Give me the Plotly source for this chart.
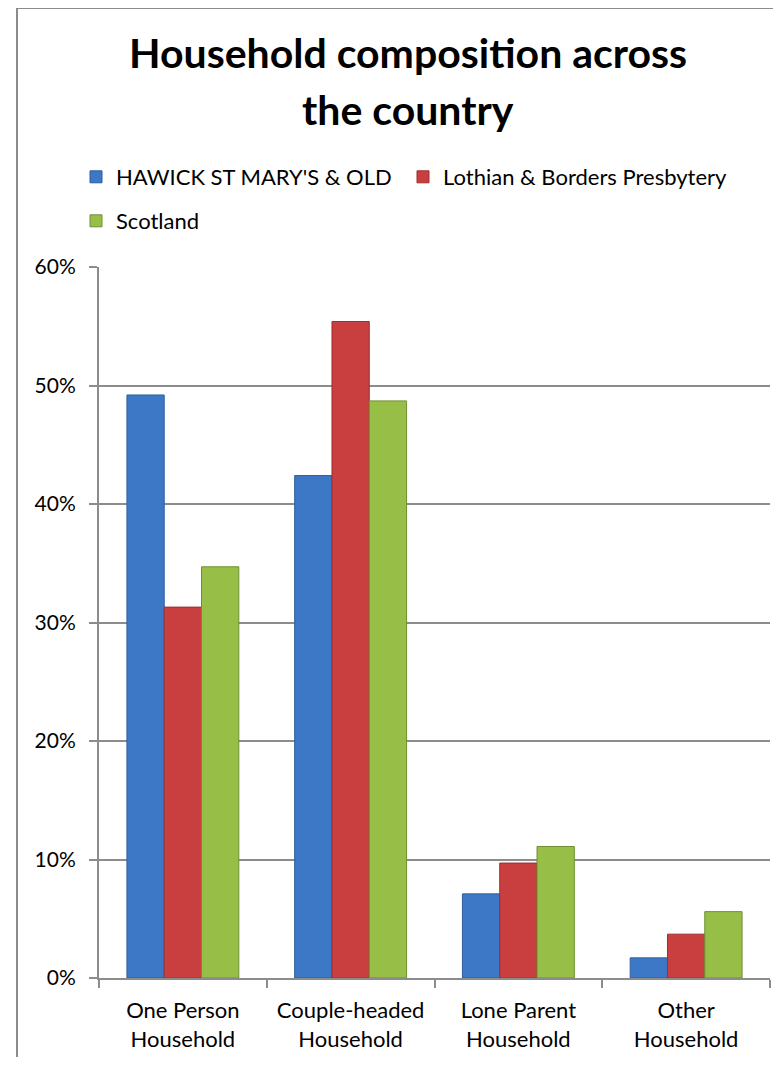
import plotly.graph_objects as go

categories = ["One Person<br>Household", "Couple-headed<br>Household",
              "Lone Parent<br>Household", "Other<br>Household"]
hawick = [0.492, 0.424, 0.071, 0.017]
lothian = [0.313, 0.554, 0.097, 0.037]
scotland = [0.347, 0.487, 0.111, 0.056]
y_ticks = [0, 0.1, 0.2, 0.3, 0.4, 0.5, 0.6]

FONT = "Lato, 'Liberation Sans', sans-serif"
OFF = 8  # page body margin
W, H = 781 - 2 * OFF, 1065 - 2 * OFF
L, R, T, B = 91, 3, 259, 79
pw, ph = W - L - R, H - T - B


def fx(x):
    # screen x -> paper x
    return (x - OFF - L) / pw


def fy(y):
    # screen y -> paper y
    return (H - B - (y - OFF)) / ph


fig = go.Figure()
fig.add_trace(go.Bar(x=categories, y=hawick, name="HAWICK ST MARY'S & OLD",
                     marker=dict(color="#3C78C6", line=dict(color="#2F5F9E", width=1)),
                     legend="legend"))
fig.add_trace(go.Bar(x=categories, y=lothian, name="Lothian & Borders Presbytery",
                     marker=dict(color="#C93E3E", line=dict(color="#9E2F2F", width=1)),
                     legend="legend"))
fig.add_trace(go.Bar(x=categories, y=scotland, name="Scotland",
                     marker=dict(color="#97BE46", line=dict(color="#6F8F32", width=1)),
                     legend="legend2"))

# chart border, left and top edge
fig.add_shape(type="line", xref="paper", yref="paper",
              x0=fx(17), x1=fx(17), y0=fy(1100), y1=fy(8),
              line=dict(color="#8C8C8C", width=2))
fig.add_shape(type="line", xref="paper", yref="paper",
              x0=fx(17), x1=fx(800), y0=fy(8), y1=fy(8),
              line=dict(color="#8C8C8C", width=2))

# title, two lines
fig.add_annotation(text="<b>Household composition across</b>", xref="paper", yref="paper",
                   x=fx(408), y=fy(52), xanchor="center", yanchor="middle",
                   showarrow=False, font=dict(size=41, family=FONT, color="black"))
fig.add_annotation(text="<b>the country</b>", xref="paper", yref="paper",
                   x=fx(408), y=fy(110), xanchor="center", yanchor="middle",
                   showarrow=False, font=dict(size=41, family=FONT, color="black"))

fig.update_layout(
    width=W, height=H,
    margin=dict(l=L, r=R, t=T, b=B),
    paper_bgcolor="white", plot_bgcolor="white",
    font=dict(family=FONT, color="black"),
    barmode="group", bargap=0.333, bargroupgap=0,
    legend=dict(orientation="h", x=fx(76), xanchor="left",
                y=fy(177), yanchor="middle", entrywidth=282,
                font=dict(size=22), bgcolor="rgba(0,0,0,0)"),
    legend2=dict(orientation="h", x=fx(76), xanchor="left",
                 y=fy(221), yanchor="middle",
                 font=dict(size=22), bgcolor="rgba(0,0,0,0)"),
)
fig.update_yaxes(range=[0, 0.6], tickvals=y_ticks, tickformat=".0%",
                 showgrid=True, gridcolor="#8C8C8C", gridwidth=2,
                 showline=True, linecolor="#8C8C8C", linewidth=2,
                 ticks="outside", ticklen=8, tickcolor="#8C8C8C", tickwidth=2,
                 ticklabelstandoff=9, tickfont=dict(size=21), zeroline=False)
fig.update_xaxes(showline=True, linecolor="#8C8C8C", linewidth=2,
                 ticks="outside", ticklen=8, tickcolor="#8C8C8C", tickwidth=2,
                 tickson="boundaries", ticklabelstandoff=12,
                 tickfont=dict(size=22))

fig.write_html("out.html")
